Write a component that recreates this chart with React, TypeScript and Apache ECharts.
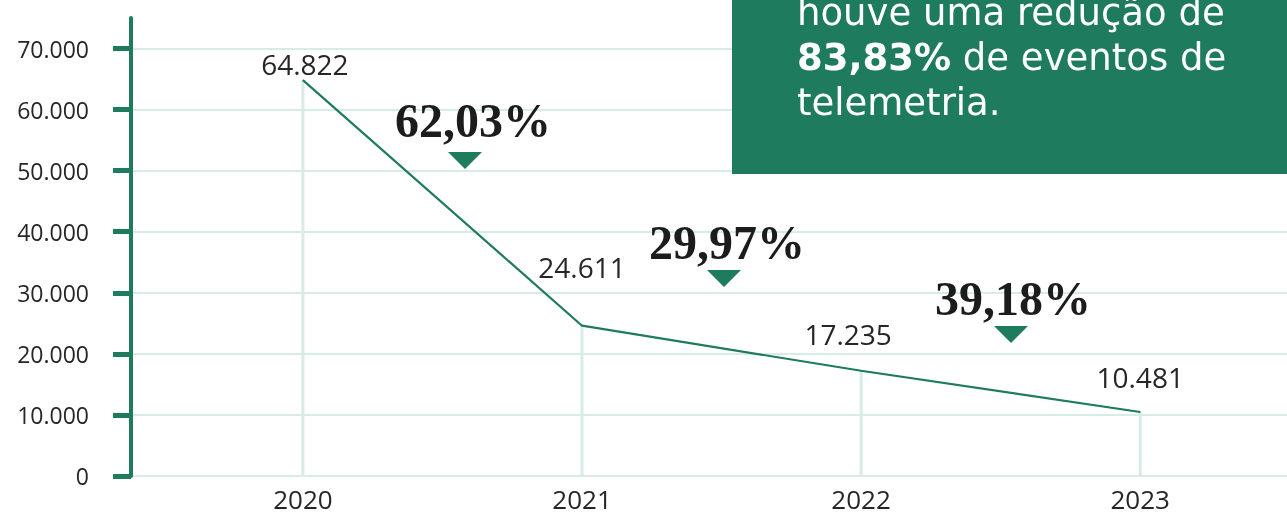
import React, { useEffect, useRef } from "react";
import * as echarts from "echarts";

// ---- data ----
const years = [2020, 2021, 2022, 2023];
const events = [64822, 24611, 17235, 10481];
const yTicks = [0, 10000, 20000, 30000, 40000, 50000, 60000, 70000];
const dropLabels = ["62,03%", "29,97%", "39,18%"];
const boxLine1 = "houve uma redução de";
const boxBold = "83,83%";
const boxLine2Rest = " de eventos de";
const boxLine3 = "telemetria.";

// ---- styles / layout ----
const GREEN = "#1e7b5e";
const GRID = "#d7ece5";
const TEXT = "#262626";
const labelDist = [2, 44, 22, 20];
const labelDx = [2, 0, -13, 0];
const dropTextPos = [
  [473, 120],
  [727, 242],
  [1013, 298],
];
const dropArrowPos = [
  [465, 152],
  [724, 270],
  [1011, 326],
];

const fmt = (v: number) =>
  String(v).replace(/\B(?=(\d{3})+(?!\d))/g, ".");

export default function App() {
  const ref = useRef<HTMLDivElement>(null);
  useEffect(() => {
    if (!ref.current) return;
    const chart = echarts.init(ref.current, null, { renderer: "svg" });
    const points = years.map((y, i) => [y, events[i]]);
    const graphic: any[] = [];
    dropLabels.forEach((t, i) => {
      graphic.push({
        type: "text",
        x: dropTextPos[i][0],
        y: dropTextPos[i][1],
        z: 50,
        style: {
          text: t,
          fill: "#1c1c1c",
          font: 'bold 48px "Liberation Serif"',
          align: "center",
          verticalAlign: "middle",
        },
      });
      graphic.push({
        type: "polygon",
        x: dropArrowPos[i][0],
        y: dropArrowPos[i][1],
        z: 50,
        shape: {
          points: [
            [-17, 0],
            [17, 0],
            [0, 17],
          ],
        },
        style: { fill: GREEN },
      });
    });
    graphic.push({
      type: "rect",
      z: 100,
      shape: { x: 732, y: -10, width: 560, height: 184 },
      style: { fill: GREEN },
    });
    const boxFont = '37px "DejaVu Sans"';
    graphic.push({
      type: "text",
      z: 101,
      x: 797,
      y: 12,
      style: {
        text: boxLine1,
        fill: "#ffffff",
        font: boxFont,
        verticalAlign: "middle",
      },
    });
    graphic.push({
      type: "text",
      z: 101,
      x: 797,
      y: 57,
      style: {
        text: "{b|" + boxBold + "}{n|" + boxLine2Rest + "}",
        fill: "#ffffff",
        verticalAlign: "middle",
        rich: {
          b: { font: 'bold 37px "DejaVu Sans"', fill: "#ffffff" },
          n: { font: boxFont, fill: "#ffffff" },
        },
      },
    });
    graphic.push({
      type: "text",
      z: 101,
      x: 797,
      y: 102,
      style: {
        text: boxLine3,
        fill: "#ffffff",
        font: boxFont,
        verticalAlign: "middle",
      },
    });

    chart.setOption({
      animation: false,
      grid: { left: 131, right: 0, top: 18, bottom: 41, containLabel: false },
      xAxis: {
        type: "value",
        min: 2019.384,
        max: 2023.526,
        axisLine: { show: false },
        axisTick: { show: false },
        splitLine: { show: false },
        axisLabel: {
          customValues: years,
          formatter: (v: number) => String(v),
          fontFamily: "Open Sans",
          fontSize: 26,
          color: TEXT,
          margin: 10,
        },
      },
      yAxis: {
        type: "value",
        min: 0,
        max: 75000,
        interval: 10000,
        axisLine: { show: true, lineStyle: { color: GREEN, width: 4 } },
        axisTick: {
          show: true,
          customValues: yTicks,
          length: 18,
          lineStyle: { color: GREEN, width: 5 },
        },
        splitLine: { show: true, lineStyle: { color: GRID, width: 2 } },
        axisLabel: {
          customValues: yTicks,
          formatter: (v: number) => fmt(v),
          fontFamily: "Open Sans",
          fontSize: 23,
          color: TEXT,
          margin: 42,
        },
      },
      series: [
        {
          type: "bar",
          data: points,
          barWidth: 3,
          itemStyle: { color: GRID },
          silent: true,
          z: 1,
        },
        {
          type: "line",
          data: points.map((p, i) => ({
            value: p,
            label: {
              distance: labelDist[i],
              offset: [labelDx[i], 0],
            },
          })),
          symbol: "circle",
          symbolSize: 1,
          itemStyle: { color: GREEN },
          lineStyle: { color: GREEN, width: 2.2 },
          z: 5,
          label: {
            show: true,
            position: "top",
            formatter: (p: any) => fmt(p.value[1]),
            fontFamily: "Open Sans",
            fontSize: 28,
            color: TEXT,
          },
        },
      ],
      graphic,
    });
    return () => chart.dispose();
  }, []);
  return (
    <div
      ref={ref}
      style={{ position: "fixed", left: 0, top: 0, width: 1287, height: 517 }}
    />
  );
}
